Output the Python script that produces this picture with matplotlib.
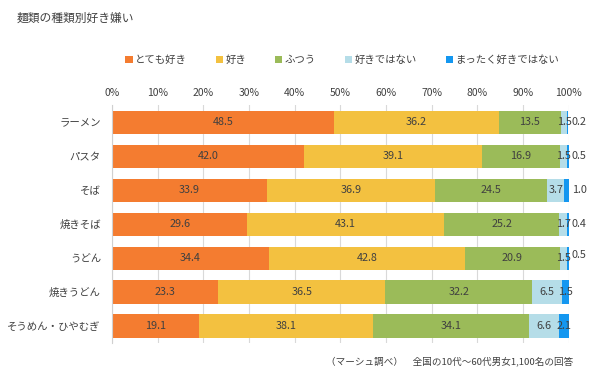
import matplotlib
matplotlib.use("Agg")
import matplotlib.pyplot as plt
import numpy as np

plt.rcParams['font.family'] = ['Noto Sans CJK JP', 'DejaVu Sans']

categories = ["ラーメン", "パスタ", "そば", "焼きそば", "うどん", "焼きうどん", "そうめん・ひやむぎ"]
series_names = ["とても好き", "好き", "ふつう", "好きではない", "まったく好きではない"]
very_like = [48.5, 42.0, 33.9, 29.6, 34.4, 23.3, 19.1]
like = [36.2, 39.1, 36.9, 43.1, 42.8, 36.5, 38.1]
neutral = [13.5, 16.9, 24.5, 25.2, 20.9, 32.2, 34.1]
dislike = [1.5, 1.5, 3.7, 1.7, 1.5, 6.5, 6.6]
hate = [0.2, 0.5, 1.0, 0.4, 0.5, 1.5, 2.1]
xticks = [0, 10, 20, 30, 40, 50, 60, 70, 80, 90, 100]
title = "麺類の種類別好き嫌い"
note = "（マーシュ調べ）　全国の10代～60代男女1,100名の回答"

colors = ["#F47C30", "#F3C140", "#9BBB59", "#B5DDE8", "#1497F0"]
txt = "#404040"

fig = plt.figure(figsize=(6, 3.81), dpi=100)
ax = fig.add_axes([0.1867, 0.0997, 0.7613, 0.6243])

data = [very_like, like, neutral, dislike, hate]
y = np.arange(len(categories))
left = np.zeros(len(categories))
for i, (vals, c, name) in enumerate(zip(data, colors, series_names)):
    vals = np.array(vals)
    ax.barh(y, vals, left=left, color=c, height=0.68, label=name, zorder=2)
    for j, v in enumerate(vals):
        if i == 4 and v <= 1.0:
            ax.text(100.6, y[j] - (0.1 if j == 4 else 0), f"{v:.1f}", ha="left", va="center",
                    fontsize=7.8, color=txt, zorder=3)
        else:
            ax.text(left[j] + v / 2, y[j], f"{v:.1f}", ha="center", va="center",
                    fontsize=7.8, color=txt, zorder=3)
    left = left + vals

ax.set_xlim(0, 100)
ax.set_ylim(len(categories) - 0.5, -0.5)
ax.set_xticks(xticks)
ax.set_xticklabels([f"{t}%" for t in xticks], fontsize=7.5, color=txt)
ax.xaxis.tick_top()
ax.tick_params(axis="x", length=0, pad=5)
ax.set_yticks(y)
ax.set_yticklabels(categories, fontsize=7.5, color=txt)
ax.tick_params(axis="y", length=0, pad=8)
ax.grid(axis="x", color="#D9D9D9", linewidth=0.8, zorder=0)
for s in ["top", "right", "bottom"]:
    ax.spines[s].set_visible(False)
ax.spines["left"].set_color("#D0D0D0")

handles, labels = ax.get_legend_handles_labels()
fig.legend(handles, labels, loc="center", bbox_to_anchor=(0.570, 1 - 60 / 381), ncol=5,
           frameon=False, fontsize=7.5, handlelength=0.7, handleheight=0.7,
           handletextpad=0.2, columnspacing=2.8, labelcolor=txt)

fig.text(17 / 600, 1 - 18 / 381, title, fontsize=8.5, color=txt, ha="left", va="center")
fig.text(573 / 600, 1 - 361 / 381, note, fontsize=6.9, color=txt, ha="right", va="center")

fig.savefig("out.png", dpi=100)
